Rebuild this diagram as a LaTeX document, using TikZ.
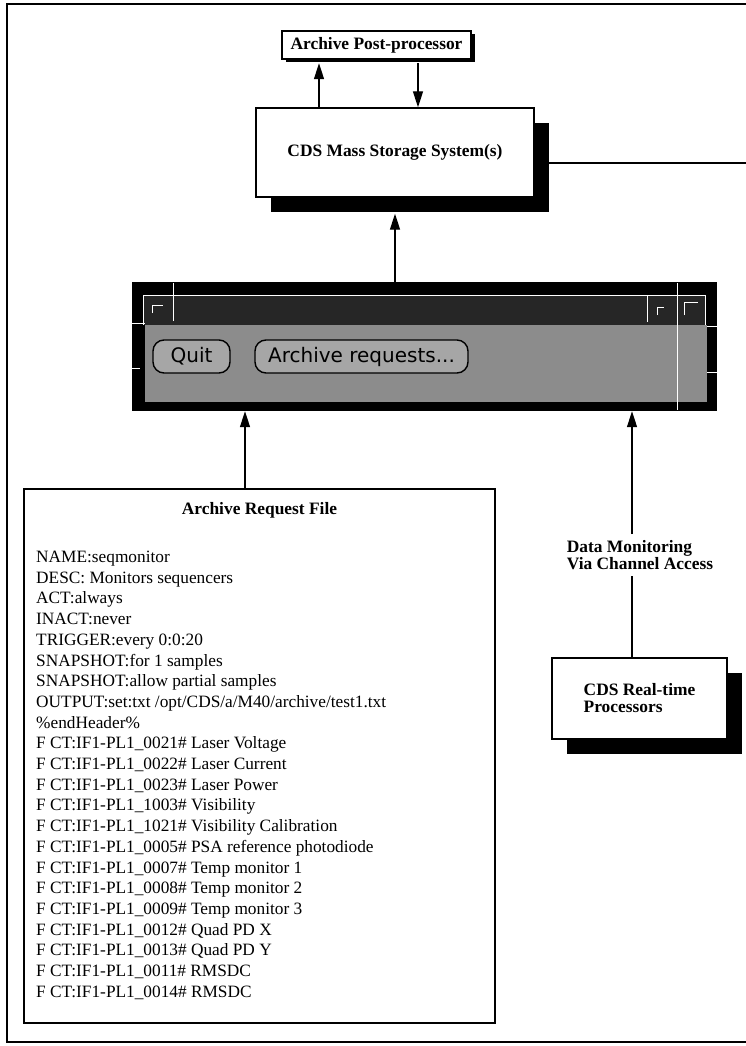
\documentclass[tikz,border=0pt]{standalone}
\usepackage{fontspec}
\setmainfont{Liberation Serif}
\newfontfamily\uifont{DejaVu Sans}
\usetikzlibrary{arrows.meta,shadows}
\begin{document}
\begin{tikzpicture}[x=1pt,y=-1pt,
  box/.style={draw=black, line width=1.4pt, fill=white, inner sep=0pt},
  ttl/.style={font=\fontsize{17.4}{17}\selectfont\bfseries},
  txt/.style={font=\fontsize{17.3}{20.7}\selectfont, anchor=base west, inner sep=0pt},
  arr/.style={line width=1.4pt, -{Triangle[length=16pt,width=10pt]}},
  conn/.style={line width=1.4pt},
  shad/.style={drop shadow={shadow xshift=#1, shadow yshift=-#1, fill=black, opacity=1}},
  btn/.style={draw=black, line width=1.4pt, fill=black!35, rounded corners=11pt, inner sep=0pt,
    font=\uifont\fontsize{20}{22}\selectfont},
  wline/.style={white, line width=0.9pt},
]
\useasboundingbox (0,0) rectangle (746,1046);
% outer frame
\draw[line width=1.5pt] (746,4) -- (7,4) -- (7,1042) -- (746,1042);

% top boxes
\node[box, shad=3.5pt, minimum width=189pt, minimum height=28pt, ttl] (pp) at (376.5,45) {Archive Post-processor};
\node[box, shad=15pt, minimum width=278pt, minimum height=89pt, ttl] (mss) at (395,152.5) {CDS Mass Storage System(s)};

% application window
\node[fill=black, minimum width=585pt, minimum height=129pt, inner sep=0pt] (win) at (424.5,346.5) {};
\fill[black!85] (143,295) rectangle (705,325);
\fill[black!45] (145,325) rectangle (707,402);
\draw[wline] (143,325) -- (143,295) -- (705,295) -- (705,325);
\draw[wline] (173,283) -- (173,321);
\draw[wline] (647,295) -- (647,322);
\draw[wline] (677,283) -- (677,410);
\draw[wline] (132,323) -- (145,323);
\draw[wline] (132,368) -- (140,368);
\draw[wline] (707,326) -- (717,326);
\draw[wline] (707,372) -- (717,372);
\draw[wline] (152,313) -- (152,305) -- (163,305);
\draw[wline] (657,315) -- (657,307) -- (664,307);
\draw[wline] (684,315) -- (684,302) -- (698,302);
\node[btn, minimum width=77pt, minimum height=33pt] (quit) at (191.5,356.5) {Quit};
\node[btn, minimum width=213pt, minimum height=33pt] (areq) at (361.5,356.5) {Archive requests...};

% request file
\node[box, minimum width=471pt, minimum height=534pt] (req) at (259.5,756) {};
\node[ttl] (reqt) at (259.5,510) {Archive Request File};
\foreach [count=\i from 0] \t in {
  NAME:seqmonitor,
  DESC: Monitors sequencers,
  ACT:always,
  INACT:never,
  TRIGGER:every 0:0:20,
  SNAPSHOT:for 1 samples,
  SNAPSHOT:allow partial samples,
  OUTPUT:set:txt /opt/CDS/a/M40/archive/test1.txt,
  \%endHeader\%,
  F CT:IF1-PL1\_0021\# Laser Voltage,
  F CT:IF1-PL1\_0022\# Laser Current,
  F CT:IF1-PL1\_0023\# Laser Power,
  F CT:IF1-PL1\_1003\# Visibility,
  F CT:IF1-PL1\_1021\# Visibility Calibration,
  F CT:IF1-PL1\_0005\# PSA reference photodiode,
  F CT:IF1-PL1\_0007\# Temp monitor 1,
  F CT:IF1-PL1\_0008\# Temp monitor 2,
  F CT:IF1-PL1\_0009\# Temp monitor 3,
  F CT:IF1-PL1\_0012\# Quad PD X,
  F CT:IF1-PL1\_0013\# Quad PD Y,
  F CT:IF1-PL1\_0011\# RMSDC,
  F CT:IF1-PL1\_0014\# RMSDC}
  \node[txt] (line\i) at (36,{562.5+20.7*\i}) {\t};

% real-time processors
\node[box, shad=15pt, minimum width=175pt, minimum height=81pt, ttl, align=left] (rt) at (639.5,698.5) {CDS Real-time\\Processors};
\node[ttl, align=left, inner sep=6pt] (dm) at (640,555) {Data Monitoring\\Via Channel Access};

% connectors
\coordinate (xa) at (319,0);
\coordinate (xb) at (418,0);
\coordinate (xc) at (395,0);
\coordinate (xd) at (245,0);
\coordinate (xe) at (632,0);
\coordinate (offR) at (746,163);
\coordinate (ppb) at ([yshift=-3.5pt]pp.south);
\coordinate (mssb) at ([yshift=-16pt]mss.south);
\draw[arr] (mss.north -| xa) -- (ppb -| xa);
\draw[arr] (ppb -| xb) -- (mss.north -| xb);
\draw[arr] (win.north -| xc) -- (mssb -| xc);
\draw[conn] (mss.east |- offR) -- (offR);
\draw[arr] (req.north -| xd) -- (win.south -| xd);
\draw[conn] (rt.north -| xe) -- (dm.south -| xe);
\draw[arr] (dm.north -| xe) -- (win.south -| xe);
\end{tikzpicture}
\end{document}
